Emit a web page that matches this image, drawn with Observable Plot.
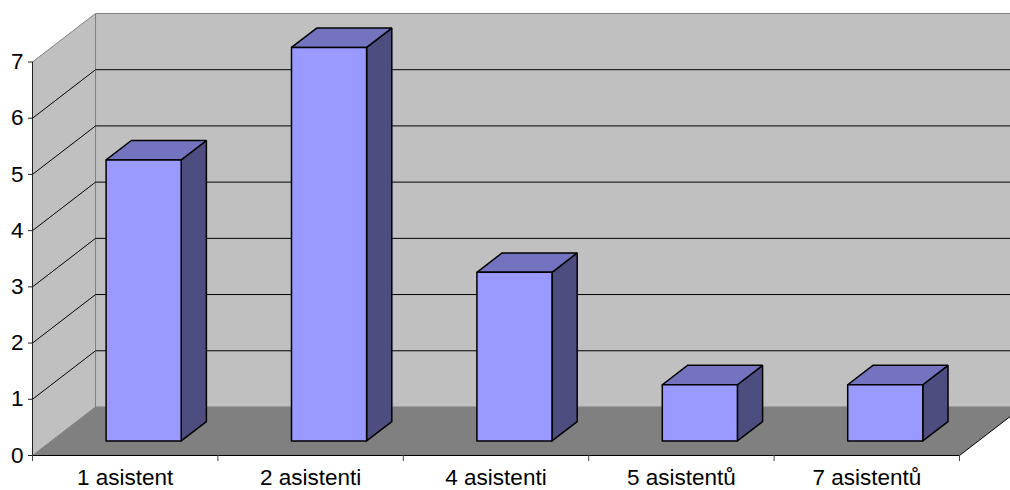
<!DOCTYPE html>
<html>
<head>
<meta charset="utf-8">
<script src="https://cdn.jsdelivr.net/npm/d3@7"></script>
<script src="https://cdn.jsdelivr.net/npm/@observablehq/plot@0.6"></script>
<style>
  html, body { margin: 0; padding: 0; background: #fff; overflow: hidden; }
</style>
</head>
<body>
<div id="chart"></div>
<script>
// Number of assistants per site
const categories = ["1 asistent", "2 asistenti", "4 asistenti", "5 asistentů", "7 asistentů"];
const values = [5, 7, 3, 1, 1];
const yTicks = [0, 1, 2, 3, 4, 5, 6, 7];
const yMax = 7;

// Oblique projection: a point at depth z (0 = front, 1 = back wall)
// is shifted right along x (category units) and up along y (value units).
const DEPTH_X = 0.34;
const DEPTH_Y = 0.863;
const proj = (x, y, z) => ({x: x + z * DEPTH_X, y: y + z * DEPTH_Y});

function polygon(id, pts) {
  const ring = pts.concat([pts[0]]);
  return ring.map(([x, y, z]) => ({id, ...proj(x, y, z)}));
}

const n = categories.length;

// Chart walls and floor
const leftWall = polygon("left", [[0, 0, 0], [0, 0, 1], [0, yMax, 1], [0, yMax, 0]]);
const backWall = polygon("back", [[0, 0, 1], [n, 0, 1], [n, yMax, 1], [0, yMax, 1]]);
const floor = polygon("floor", [[0, 0, 0], [n, 0, 0], [n, 0, 1], [0, 0, 1]]);
const floorEdge = [[0, 0, 0], [n, 0, 0], [n, 0, 1]].map(([x, y, z]) => proj(x, y, z));

// Gridlines run across the left wall and along the back wall
const grid = yTicks.filter((t) => t > 0 && t < yMax).flatMap((t) =>
  [[0, t, 0], [0, t, 1], [n, t, 1]].map(([x, y, z]) => ({id: t, ...proj(x, y, z)}))
);

// Bar boxes
const BX0 = 0.295, BX1 = 0.7, BZ0 = 0.3, BZ1 = 0.7;
const fronts = [], sides = [], tops = [];
values.forEach((v, i) => {
  const x0 = i + BX0, x1 = i + BX1;
  fronts.push(...polygon(i, [[x0, 0, BZ0], [x1, 0, BZ0], [x1, v, BZ0], [x0, v, BZ0]]));
  sides.push(...polygon(i, [[x1, 0, BZ0], [x1, 0, BZ1], [x1, v, BZ1], [x1, v, BZ0]]));
  tops.push(...polygon(i, [[x0, v, BZ0], [x1, v, BZ0], [x1, v, BZ1], [x0, v, BZ1]]));
});

const face = (data, fill, stroke, strokeWidth) =>
  Plot.line(data, {x: "x", y: "y", z: "id", fill, stroke, strokeWidth, strokeLinejoin: "miter"});

const chart = Plot.plot({
  width: 1010,
  height: 490,
  marginLeft: 32,
  marginRight: 51,
  marginTop: 61.5,
  marginBottom: 35,
  style: {fontFamily: "'Liberation Sans', Arial, sans-serif", fontSize: "22.5px", background: "#fff", color: "#000"},
  x: {domain: [0, n], label: null},
  y: {domain: [0, yMax], label: null},
  marks: [
    face(leftWall, "#c0c0c0", "#808080", 1),
    face(backWall, "#c0c0c0", "#808080", 1),
    face(floor, "#808080", "none", 0),
    Plot.line(grid, {x: "x", y: "y", z: "id", stroke: "#000", strokeWidth: 1}),
    Plot.line(floorEdge, {x: "x", y: "y", stroke: "#000", strokeWidth: 1}),
    face(sides, "#4d4d80", "#000", 1.5),
    face(tops, "#7373bf", "#000", 1.5),
    face(fronts, "#9999ff", "#000", 1.5),
    Plot.ruleX([0], {y1: 0, y2: yMax, stroke: "#222"}),
    Plot.axisY({ticks: yTicks, tickSize: 4, tickPadding: 5, fontSize: 22.5, stroke: "#222",
      tickFormat: d3.format("d")}),
    Plot.axisX({ticks: d3.range(n + 1), tickSize: 6, tickFormat: () => "", stroke: "#444"}),
    Plot.axisX({ticks: categories.map((_, i) => i + 0.5), tickSize: 0, tickPadding: 14, fontSize: 22.5,
      tickFormat: (d) => categories[Math.floor(d)]})
  ]
});

document.getElementById("chart").appendChild(chart);
</script>
</body>
</html>
